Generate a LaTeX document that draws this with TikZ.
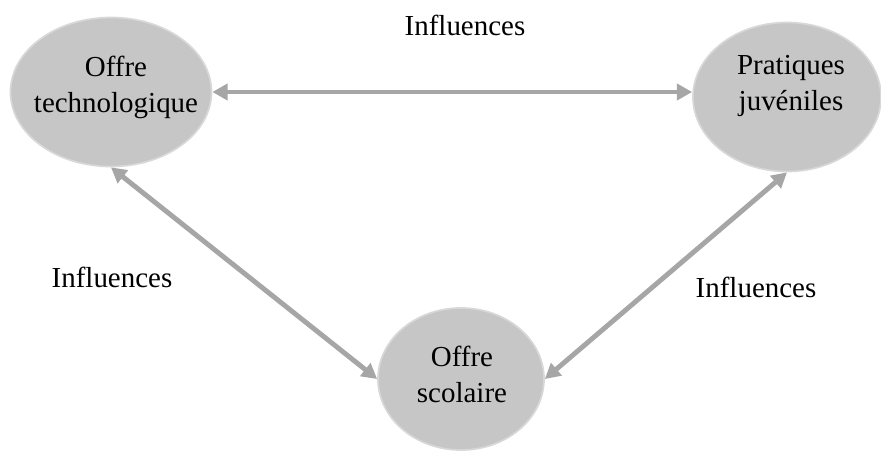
\documentclass[tikz,border=0pt]{standalone}
\usepackage{fontspec}
\setmainfont{Liberation Serif}
\usetikzlibrary{arrows.meta,shapes.geometric}
\definecolor{bulle}{RGB}{198,198,198}
\definecolor{bord}{RGB}{216,216,216}
\definecolor{fleche}{RGB}{166,166,166}

\begin{document}
\begin{tikzpicture}[x=0.025cm,y=-0.025cm,
	bulle/.style={ellipse, fill=bulle, draw=bord, line width=1.2pt, inner sep=0pt},
	texte/.style={align=center, anchor=base, inner sep=0pt, font=\fontsize{20.6}{24.9}\selectfont},
	lien/.style={draw=fleche, line width=3.5pt, {Triangle[width=0.4cm,length=0.38cm]}-{Triangle[width=0.4cm,length=0.38cm]}}]
	\useasboundingbox (0,0) rectangle (881,454);
	% les trois bulles
	\node[bulle, minimum width=5.025cm, minimum height=3.725cm] (techno) at (111,92) {};
	\node[bulle, minimum width=4.7cm, minimum height=3.725cm] (jeunes) at (787,97) {};
	\node[bulle, minimum width=4.15cm, minimum height=3.55cm] (ecole) at (461,379) {};
	\node[texte] (t1) at (116,112) {Offre\\technologique};
	\node[texte] (t2) at (791,110) {Pratiques\\juvéniles};
	\node[texte] (t3) at (462,402) {Offre\\scolaire};
	% les influences
	\draw[lien] (techno.east) -- (techno.east -| jeunes.west);
	\draw[lien] (techno.south) -- (ecole.west);
	\draw[lien] (ecole.east) -- (jeunes.south);
	\node[texte] (i1) at (465,35) {Influences};
	\node[texte] (i2) at (112,287) {Influences};
	\node[texte] (i3) at (756,297) {Influences};
\end{tikzpicture}
\end{document}
